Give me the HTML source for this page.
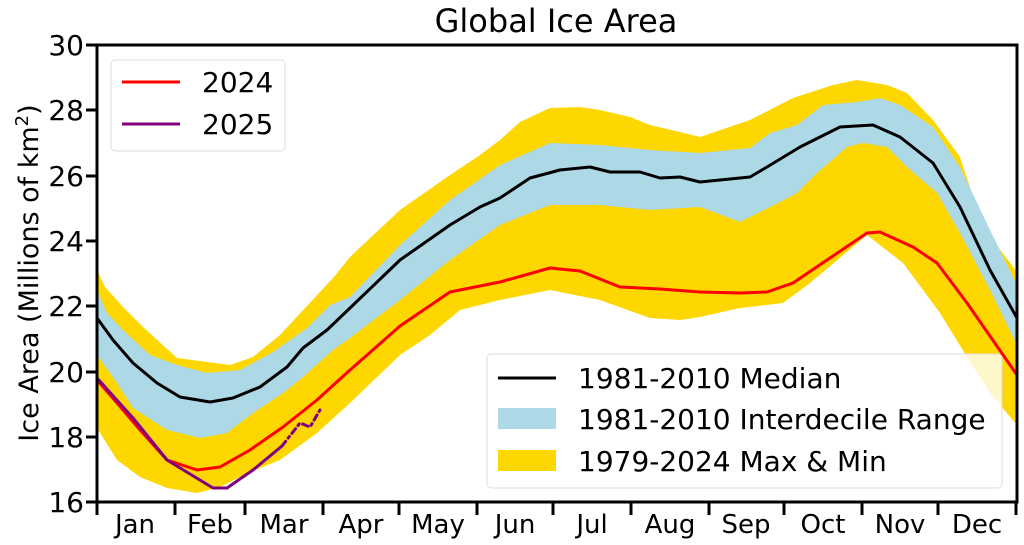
<!DOCTYPE html>
<html><head><meta charset="utf-8"><style>
html,body{margin:0;padding:0;background:#fff;}
svg{display:block;font-family:"DejaVu Sans","Liberation Sans",sans-serif;}
</style></head><body>
<svg width="1024" height="545" viewBox="0 0 1024 545" xmlns="http://www.w3.org/2000/svg">
<defs><clipPath id="c"><rect x="97" y="45" width="920" height="457"/></clipPath></defs>
<g clip-path="url(#c)" stroke-linejoin="round" stroke-linecap="round">
<polygon fill="#FFD700" points="97,270 105,287 123,307 143,327 177,358 207,362 230,365 253,357 280,335 333,278 350,257 400,210 450,175 480,155 500,140 520,122 550,108 580,107 600,110 630,117 650,125 680,132 700,137 750,120 793,98 833,85 857,80 887,85 907,93 933,120 960,157 983,227 1017,272 1017,425 990,393 967,357 940,313 903,263 867,235 810,283 783,303 740,308 700,317 680,320 650,318 600,300 550,290 500,300 460,310 430,335 400,355 350,403 317,433 280,460 250,472 220,487 197,493 167,488 140,477 117,460 97,428"/>
<polygon fill="#ADD8E6" points="97,290 107,313 123,330 150,355 177,365 207,373 240,370 273,352 307,328 330,305 350,297 400,245 450,200 500,165 550,143 600,145 650,150 700,153 750,148 770,133 797,125 823,105 857,102 880,98 900,105 933,127 960,167 990,230 1017,285 1017,345 990,290 960,233 937,193 907,167 887,147 863,143 847,147 817,173 797,193 780,202 740,222 700,207 650,210 600,205 550,205 500,225 450,260 400,300 350,338 333,350 303,377 283,393 253,413 227,433 200,438 167,430 133,408 117,383 97,355"/>
<polyline fill="none" stroke="#000" stroke-width="3" points="97,318 113,340 133,363 157,383 180,397 210,402 233,398 260,387 287,367 303,348 327,330 350,308 400,260 450,225 480,207 500,198 530,178 560,170 590,167 610,172 640,172 660,178 680,177 700,182 750,177 767,167 800,147 840,127 873,125 900,137 933,163 960,207 990,270 1017,318"/>
<polyline fill="none" stroke="#FF0000" stroke-width="3" points="97,380 117,403 140,430 167,460 197,470 220,467 250,450 283,427 317,400 350,370 400,326 450,292 500,282 550,268 580,271 620,287 660,289 700,292 740,293 767,292 793,283 827,260 867,233 880,232 913,247 937,263 967,303 1017,375"/>
<polyline fill="none" stroke="#800080" stroke-width="3" points="97,378 133,418 167,460 213,488 227,488 253,470 282,446"/>
<polyline fill="none" stroke="#800080" stroke-width="3" stroke-dasharray="6,4,2,4" points="282,446 300,423 310,427 320,410"/>
</g>
<rect x="97" y="45" width="920" height="457" fill="none" stroke="#000" stroke-width="3"/>
<g stroke="#000" stroke-width="3">
<line x1="86" y1="45" x2="97" y2="45"/><line x1="86" y1="110" x2="97" y2="110"/><line x1="86" y1="176" x2="97" y2="176"/><line x1="86" y1="241" x2="97" y2="241"/><line x1="86" y1="306" x2="97" y2="306"/><line x1="86" y1="372" x2="97" y2="372"/><line x1="86" y1="437" x2="97" y2="437"/><line x1="86" y1="502" x2="97" y2="502"/>
<line x1="97" y1="502" x2="97" y2="515"/><line x1="175" y1="502" x2="175" y2="515"/><line x1="245" y1="502" x2="245" y2="515"/><line x1="323" y1="502" x2="323" y2="515"/><line x1="399" y1="502" x2="399" y2="515"/><line x1="477" y1="502" x2="477" y2="515"/><line x1="553" y1="502" x2="553" y2="515"/><line x1="631" y1="502" x2="631" y2="515"/><line x1="709" y1="502" x2="709" y2="515"/><line x1="784" y1="502" x2="784" y2="515"/><line x1="862" y1="502" x2="862" y2="515"/><line x1="938" y1="502" x2="938" y2="515"/><line x1="1016" y1="502" x2="1016" y2="515"/>
</g>
<g font-size="28" text-anchor="end" fill="#000">
<text x="84" y="55">30</text><text x="84" y="120">28</text><text x="84" y="186">26</text><text x="84" y="251">24</text><text x="84" y="316">22</text><text x="84" y="382">20</text><text x="84" y="447">18</text><text x="84" y="512">16</text>
</g>
<g font-size="26" text-anchor="middle" fill="#000">
<text x="135" y="533">Jan</text><text x="210" y="533">Feb</text><text x="284" y="533">Mar</text><text x="361" y="533">Apr</text><text x="438" y="533">May</text><text x="515" y="533">Jun</text><text x="592" y="533">Jul</text><text x="670" y="533">Aug</text><text x="746" y="533">Sep</text><text x="823" y="533">Oct</text><text x="900" y="533">Nov</text><text x="977" y="533">Dec</text>
</g>
<text x="556" y="32" font-size="32" text-anchor="middle">Global Ice Area</text>
<text transform="translate(38,273) rotate(-90)" font-size="27" text-anchor="middle">Ice Area (Millions of km<tspan dy="-10" font-size="18">2</tspan><tspan dy="10">)</tspan></text>
<rect x="111" y="60" width="174" height="91" rx="4" fill="#fff" fill-opacity="0.8" stroke="#ddd" stroke-width="1"/>
<line x1="122" y1="82" x2="180" y2="82" stroke="#FF0000" stroke-width="3"/>
<line x1="122" y1="124" x2="180" y2="124" stroke="#800080" stroke-width="3"/>
<text x="202" y="92" font-size="28">2024</text>
<text x="202" y="134" font-size="28">2025</text>
<rect x="487" y="354" width="515" height="134" rx="4" fill="#fff" fill-opacity="0.8" stroke="#ddd" stroke-width="1"/>
<line x1="498" y1="378" x2="556" y2="378" stroke="#000" stroke-width="3"/>
<rect x="498" y="408" width="58" height="21" fill="#ADD8E6"/>
<rect x="498" y="450" width="58" height="21" fill="#FFD700"/>
<text x="578" y="388" font-size="28">1981-2010 Median</text>
<text x="578" y="429" font-size="28">1981-2010 Interdecile Range</text>
<text x="578" y="471" font-size="28">1979-2024 Max &amp; Min</text>
</svg>
</body></html>
